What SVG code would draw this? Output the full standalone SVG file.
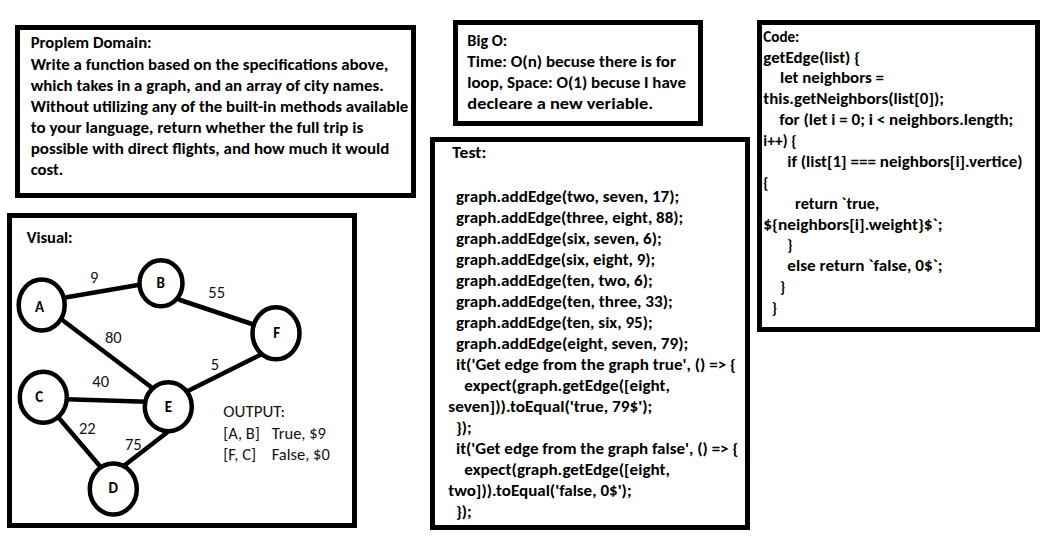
<svg xmlns="http://www.w3.org/2000/svg" width="1053" height="540" viewBox="0 0 1053 540">
<style>
.box{fill:#fff;stroke:#000;stroke-width:5}
.b{font-family:Carlito,Calibri,"Liberation Sans",Arial,sans-serif;font-weight:bold;font-size:15px;fill:#000}
.r{font-family:Carlito,Calibri,"Liberation Sans",Arial,sans-serif;font-size:16.5px;fill:#111}
.node ellipse{fill:#fff;stroke:#000;stroke-width:4.5}
.nl{font-family:Carlito,Calibri,"Liberation Sans",Arial,sans-serif;font-weight:bold;font-size:15px;fill:#000;text-anchor:middle}
.el{text-anchor:middle}
#connectors line{stroke:#000;stroke-width:4.5;stroke-linecap:round}
</style>
<rect width="1053" height="540" fill="#fff"/>

<g id="problem-domain">
<rect class="box" x="17.5" y="27.5" width="396" height="168"/>
<text class="b" x="30.7" y="48" textLength="121" lengthAdjust="spacingAndGlyphs">Proplem Domain:</text>
<text class="b" x="30.7" y="69.5" textLength="357.6" lengthAdjust="spacingAndGlyphs">Write a function based on the specifications above,</text>
<text class="b" x="30.7" y="90.5" textLength="353" lengthAdjust="spacingAndGlyphs">which takes in a graph, and an array of city names.</text>
<text class="b" x="30.7" y="111.5" textLength="377.6" lengthAdjust="spacingAndGlyphs">Without utilizing any of the built-in methods available</text>
<text class="b" x="30.7" y="132.5" textLength="332.6" lengthAdjust="spacingAndGlyphs">to your language, return whether the full trip is</text>
<text class="b" x="30.7" y="153.5" textLength="358.6" lengthAdjust="spacingAndGlyphs">possible with direct flights, and how much it would</text>
<text class="b" x="30.7" y="174.5" textLength="32.6" lengthAdjust="spacingAndGlyphs">cost.</text>
</g>

<g id="big-o">
<rect class="box" x="455.5" y="22.5" width="245" height="101"/>
<text class="b" x="467.3" y="45.7" textLength="40" lengthAdjust="spacingAndGlyphs">Big O:</text>
<text class="b" x="467.3" y="66.7" textLength="208.7" lengthAdjust="spacingAndGlyphs">Time: O(n) becuse there is for</text>
<text class="b" x="467.3" y="87.7" textLength="218.7" lengthAdjust="spacingAndGlyphs">loop, Space: O(1) becuse I have</text>
<text class="b" x="467.3" y="108.5" textLength="186" lengthAdjust="spacingAndGlyphs">decleare a new veriable.</text>
</g>

<g id="code">
<rect class="box" x="759.5" y="22.5" width="278" height="307"/>
<text class="b" x="763.3" y="41.7" textLength="36" lengthAdjust="spacingAndGlyphs">Code:</text>
<text class="b" x="763.3" y="62.5" textLength="96.7" lengthAdjust="spacingAndGlyphs">getEdge(list) {</text>
<text class="b" x="780" y="83.3" textLength="104" lengthAdjust="spacingAndGlyphs">let neighbors =</text>
<text class="b" x="763.3" y="104.2" textLength="180.7" lengthAdjust="spacingAndGlyphs">this.getNeighbors(list[0]);</text>
<text class="b" x="779.3" y="125" textLength="234" lengthAdjust="spacingAndGlyphs">for (let i = 0; i &lt; neighbors.length;</text>
<text class="b" x="763.3" y="146" textLength="33.3" lengthAdjust="spacingAndGlyphs">i++) {</text>
<text class="b" x="787.3" y="166.8" textLength="235.3" lengthAdjust="spacingAndGlyphs">if (list[1] === neighbors[i].vertice)</text>
<text class="b" x="763.3" y="187.7">{</text>
<text class="b" x="795" y="208.6" textLength="84.3" lengthAdjust="spacingAndGlyphs">return `true,</text>
<text class="b" x="763.3" y="229.5" textLength="179.3" lengthAdjust="spacingAndGlyphs">${neighbors[i].weight}$`;</text>
<text class="b" x="787.3" y="250.3">}</text>
<text class="b" x="787.3" y="271.2" textLength="155.3" lengthAdjust="spacingAndGlyphs">else return `false, 0$`;</text>
<text class="b" x="780" y="292">}</text>
<text class="b" x="771.7" y="313">}</text>
</g>

<g id="test">
<rect class="box" x="432.5" y="139.5" width="315" height="388"/>
<text class="b" x="452.3" y="158.3" textLength="34" lengthAdjust="spacingAndGlyphs">Test:</text>
<text class="b" x="456" y="201.7" textLength="223.3" lengthAdjust="spacingAndGlyphs">graph.addEdge(two, seven, 17);</text>
<text class="b" x="456" y="222.7" textLength="227.3" lengthAdjust="spacingAndGlyphs">graph.addEdge(three, eight, 88);</text>
<text class="b" x="456" y="243.7" textLength="205.7" lengthAdjust="spacingAndGlyphs">graph.addEdge(six, seven, 6);</text>
<text class="b" x="456" y="264.7" textLength="199.3" lengthAdjust="spacingAndGlyphs">graph.addEdge(six, eight, 9);</text>
<text class="b" x="456" y="285.7" textLength="196.7" lengthAdjust="spacingAndGlyphs">graph.addEdge(ten, two, 6);</text>
<text class="b" x="456" y="306.7" textLength="216.7" lengthAdjust="spacingAndGlyphs">graph.addEdge(ten, three, 33);</text>
<text class="b" x="456" y="327.7" textLength="196.7" lengthAdjust="spacingAndGlyphs">graph.addEdge(ten, six, 95);</text>
<text class="b" x="456" y="348.7" textLength="232.3" lengthAdjust="spacingAndGlyphs">graph.addEdge(eight, seven, 79);</text>
<text class="b" x="456" y="369.7" textLength="280" lengthAdjust="spacingAndGlyphs">it('Get edge from the graph true', () =&gt; {</text>
<text class="b" x="464.3" y="390.7" textLength="205.7" lengthAdjust="spacingAndGlyphs">expect(graph.getEdge([eight,</text>
<text class="b" x="448.3" y="411.7" textLength="204" lengthAdjust="spacingAndGlyphs">seven])).toEqual('true, 79$');</text>
<text class="b" x="456" y="432.7" textLength="15.7" lengthAdjust="spacingAndGlyphs">});</text>
<text class="b" x="456" y="453.7" textLength="282.3" lengthAdjust="spacingAndGlyphs">it('Get edge from the graph false', () =&gt; {</text>
<text class="b" x="464.3" y="474.7" textLength="205.7" lengthAdjust="spacingAndGlyphs">expect(graph.getEdge([eight,</text>
<text class="b" x="448.3" y="495.7" textLength="183.3" lengthAdjust="spacingAndGlyphs">two])).toEqual('false, 0$');</text>
<text class="b" x="456" y="516.7" textLength="15.7" lengthAdjust="spacingAndGlyphs">});</text>
</g>

<g id="visual">
<rect class="box" x="9.5" y="215.5" width="345" height="310"/>
<text class="b" x="26.7" y="242.7" textLength="46" lengthAdjust="spacingAndGlyphs">Visual:</text>
</g>

<g id="connectors">
<line x1="66.7" y1="297.3" x2="144" y2="284"/>
<line x1="180" y1="300" x2="255" y2="325"/>
<line x1="63.3" y1="320.7" x2="152.7" y2="388.3"/>
<line x1="266.7" y1="351.7" x2="188.3" y2="390.7"/>
<line x1="66.7" y1="399.3" x2="146.7" y2="401.7"/>
<line x1="60" y1="419.3" x2="101.7" y2="468.3"/>
<line x1="166.7" y1="432.7" x2="122.7" y2="466.7"/>
<text class="r el" x="94.3" y="283">9</text>
<text class="r el" x="216.7" y="298.3">55</text>
<text class="r el" x="113.3" y="343">80</text>
<text class="r el" x="215" y="370">5</text>
<text class="r el" x="100.7" y="387.3">40</text>
<text class="r el" x="87.3" y="434">22</text>
<text class="r el" x="133.3" y="450">75</text>
</g>

<g id="node-A" class="node"><ellipse cx="41.7" cy="305" rx="23" ry="25.5"/><text class="nl" x="39.5" y="312.3">A</text></g>
<g id="node-B" class="node"><ellipse cx="161" cy="283.3" rx="21.5" ry="23"/><text class="nl" x="160.7" y="287.7">B</text></g>
<g id="node-F" class="node"><ellipse cx="276" cy="333.3" rx="23.5" ry="26"/><text class="nl" x="276.7" y="338.3">F</text></g>
<g id="node-C" class="node"><ellipse cx="43.3" cy="397.3" rx="23.5" ry="25.5"/><text class="nl" x="39.3" y="401.7">C</text></g>
<g id="node-E" class="node"><ellipse cx="168.3" cy="406.7" rx="23.5" ry="24.5"/><text class="nl" x="168.3" y="412.3">E</text></g>
<g id="node-D" class="node"><ellipse cx="113.3" cy="489" rx="23.5" ry="25.5"/><text class="nl" x="113.3" y="493.3">D</text></g>

<g id="output">
<text class="r" x="223.3" y="417.3" textLength="61.7" lengthAdjust="spacingAndGlyphs">OUTPUT:</text>
<text class="r" y="439.3"><tspan x="223.3">[A, B]</tspan><tspan x="271.7">True, $9</tspan></text>
<text class="r" y="460"><tspan x="223.3">[F, C]</tspan><tspan x="271.7">False, $0</tspan></text>
</g>
</svg>
